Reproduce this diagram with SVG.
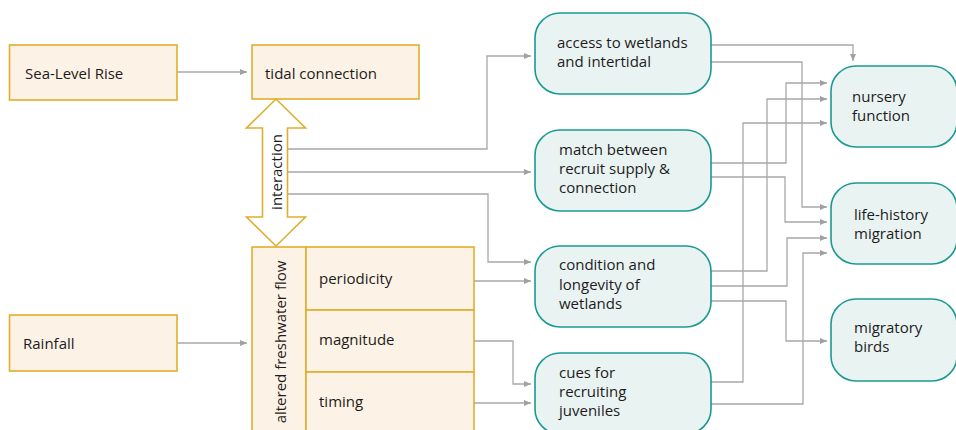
<svg xmlns="http://www.w3.org/2000/svg" width="956" height="430" viewBox="0 0 956 430">
<defs>
<style>
.src{fill:#fcf3e6;stroke:#e0ae2e;stroke-width:1.6}
.eff{fill:#e9f4f2;stroke:#1a9994;stroke-width:1.6}
.t{font-family:"Open Sans","Noto Sans","Liberation Sans",sans-serif;font-size:15px;fill:#1e1b1c}
.c{fill:none;stroke:#a8a8a8;stroke-width:1.3;marker-end:url(#ah)}
</style>
<marker id="ah" markerUnits="userSpaceOnUse" markerWidth="8" markerHeight="8" refX="7" refY="3.5" orient="auto">
<path d="M0,0.5 L7,3.5 L0,6.5 z" fill="#a0a0a0"/>
</marker>
</defs>
<rect width="956" height="430" fill="#ffffff"/>

<g id="connectors">
<path class="c" d="M177,72 H247"/>
<path class="c" d="M177,343 H247"/>
<path class="c" d="M287,149 H487 V56 H531"/>
<path class="c" d="M287,172 H531"/>
<path class="c" d="M287,194 H488 V262 H531"/>
<path class="c" d="M474,281 H531"/>
<path class="c" d="M474,341 H513 V384 H531"/>
<path class="c" d="M474,403 H531"/>
<path class="c" d="M711,45 H853 V61"/>
<path class="c" d="M711,62 H802 V207 H827"/>
<path class="c" d="M711,163 H786 V83 H827"/>
<path class="c" d="M711,177 H785 V222 H827"/>
<path class="c" d="M711,271 H767 V99 H827"/>
<path class="c" d="M711,286 H787 V238 H827"/>
<path class="c" d="M711,301 H786 V341 H827"/>
<path class="c" d="M711,382 H743 V123 H827"/>
<path class="c" d="M711,404 H803 V253 H827"/>
</g>

<g id="sea-level-rise">
<rect class="src" x="9.5" y="45" width="167.5" height="55"/>
<text class="t" x="25" y="79">Sea-Level Rise</text>
</g>
<g id="tidal-connection">
<rect class="src" x="252" y="45" width="167" height="54"/>
<text class="t" x="265" y="79">tidal connection</text>
</g>
<g id="interaction">
<path d="M276,99 L305.5,128 L287.5,128 L287.5,217 L305.5,217 L276,246 L246.5,217 L262.5,217 L262.5,128 L246.5,128 Z" fill="#ffffff" stroke="#e0ae2e" stroke-width="1.6"/>
<text class="t" transform="translate(281.5,172) rotate(-90)" text-anchor="middle">interaction</text>
</g>
<g id="rainfall">
<rect class="src" x="9.5" y="315" width="167.5" height="56"/>
<text class="t" x="23" y="349">Rainfall</text>
</g>
<g id="altered-freshwater-flow">
<rect class="src" x="252" y="247" width="54" height="190"/>
<text class="t" transform="translate(285.5,342) rotate(-90)" text-anchor="middle">altered freshwater flow</text>
</g>
<g id="periodicity">
<rect class="src" x="306" y="247" width="168" height="63"/>
<text class="t" x="319" y="284">periodicity</text>
</g>
<g id="magnitude">
<rect class="src" x="306" y="310" width="168" height="62"/>
<text class="t" x="319" y="345">magnitude</text>
</g>
<g id="timing">
<rect class="src" x="306" y="372" width="168" height="65"/>
<text class="t" x="319" y="407">timing</text>
</g>

<g id="access">
<rect class="eff" x="535" y="13" width="176" height="81" rx="25"/>
<text class="t" x="557" y="48">access to wetlands</text>
<text class="t" x="557" y="67">and intertidal</text>
</g>
<g id="match">
<rect class="eff" x="535" y="130" width="176" height="81" rx="25"/>
<text class="t" x="559" y="155">match between</text>
<text class="t" x="559" y="174">recruit supply &amp;</text>
<text class="t" x="559" y="193">connection</text>
</g>
<g id="condition">
<rect class="eff" x="535" y="246" width="176" height="81" rx="25"/>
<text class="t" x="559" y="270">condition and</text>
<text class="t" x="559" y="289.5">longevity of</text>
<text class="t" x="559" y="309">wetlands</text>
</g>
<g id="cues">
<rect class="eff" x="535" y="353" width="176" height="81" rx="25"/>
<text class="t" x="559" y="378">cues for</text>
<text class="t" x="559" y="397">recruiting</text>
<text class="t" x="559" y="416">juveniles</text>
</g>

<g id="nursery">
<rect class="eff" x="831" y="66" width="126" height="81" rx="25"/>
<text class="t" x="852" y="101.5">nursery</text>
<text class="t" x="852" y="120.5">function</text>
</g>
<g id="life-history">
<rect class="eff" x="831" y="183" width="126" height="81" rx="25"/>
<text class="t" x="854" y="219.5">life-history</text>
<text class="t" x="854" y="238.5">migration</text>
</g>
<g id="migratory">
<rect class="eff" x="831" y="299" width="126" height="82" rx="25"/>
<text class="t" x="854" y="333">migratory</text>
<text class="t" x="854" y="352">birds</text>
</g>
</svg>
